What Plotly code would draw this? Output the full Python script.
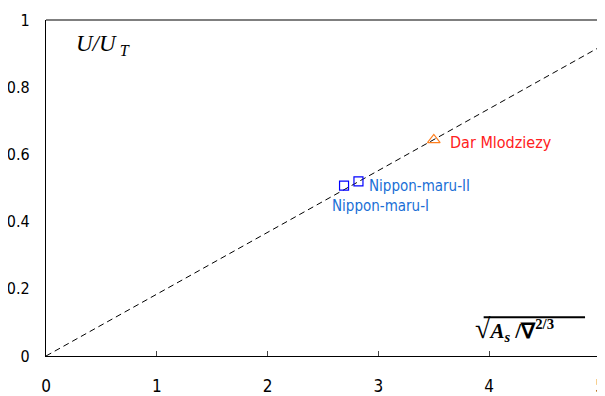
import plotly.graph_objects as go

# Data
line_x = [0, 5]
line_y = [0, 0.92]
ship_names = ["Nippon-maru-I", "Nippon-maru-II", "Dar Mlodziezy"]
ship_x = [2.69, 2.82, 3.50]
ship_y = [0.507, 0.520, 0.643]
x_ticks = [0, 1, 2, 3, 4, 5]
y_ticks = [0, 0.2, 0.4, 0.6, 0.8, 1]
y_tick_text = ["0", "0.2", "0.4", "0.6", "0.8", "1"]

FONT = "DejaVu Sans Condensed, Liberation Sans Narrow, Arial Narrow, Liberation Sans, sans-serif"
SERIF = "Liberation Serif, Times New Roman, serif"
BLUE_TXT = "#1a6fd6"

fig = go.Figure()
fig.add_trace(go.Scatter(x=line_x, y=line_y, mode="lines",
                         line=dict(color="black", width=1, dash="6px,4px"),
                         showlegend=False, hoverinfo="skip", cliponaxis=False))
fig.add_trace(go.Scatter(x=ship_x[:2], y=ship_y[:2], mode="markers",
                         marker=dict(symbol="square-open", size=9, color="#0000ff",
                                     line=dict(width=1.2)),
                         showlegend=False))
fig.add_trace(go.Scatter(x=ship_x[2:], y=ship_y[2:], mode="markers",
                         marker=dict(symbol="triangle-up-open", size=11, color="#ff7f1e",
                                     line=dict(width=1.2)),
                         showlegend=False))

# ship labels
fig.add_annotation(x=ship_x[2], y=ship_y[2], text=ship_names[2], showarrow=False,
                   xanchor="left", yanchor="middle", xshift=14, yshift=-3,
                   font=dict(family=FONT, size=16, color="#ff2020"))
fig.add_annotation(x=ship_x[1], y=ship_y[1], text=ship_names[1], showarrow=False,
                   xanchor="left", yanchor="middle", xshift=9, yshift=-5,
                   font=dict(family=FONT, size=15, color=BLUE_TXT))
fig.add_annotation(x=ship_x[0], y=ship_y[0], text=ship_names[0], showarrow=False,
                   xanchor="left", yanchor="middle", xshift=-14, yshift=-20,
                   font=dict(family=FONT, size=15, color=BLUE_TXT))

# axis titles inside plot
fig.add_annotation(xref="paper", yref="paper", x=0.05, y=0.925, showarrow=False,
                   xanchor="left", yanchor="middle",
                   text="<i>U/U</i><sub><i> T</i></sub>",
                   font=dict(family=SERIF, size=23, color="black"))
fig.add_annotation(xref="paper", yref="paper", x=0.77, y=0.08, showarrow=False,
                   xanchor="left", yanchor="middle",
                   text="<b><span style='font-size:28px'>√</span><i>A</i><sub><i>s</i></sub> /∇<sup>2/3</sup></b>",
                   font=dict(family=SERIF, size=21, color="black"))
fig.add_shape(type="line", xref="paper", yref="paper", x0=0.79, x1=0.973, y0=0.115, y1=0.115,
              line=dict(color="black", width=2))

# right border in gray
fig.add_shape(type="line", xref="paper", yref="paper", x0=1, x1=1, y0=0, y1=1,
              line=dict(color="#999999", width=1.5))
# top border
fig.add_shape(type="line", xref="paper", yref="paper", x0=0, x1=1, y0=1, y1=1,
              line=dict(color="black", width=1.2))

fig.update_xaxes(range=[0, 5], tickvals=x_ticks, ticks="inside", ticklen=5,
                 showline=True, linecolor="black", linewidth=1.2, mirror=False,
                 showgrid=False, zeroline=False, automargin=False,
                 ticklabelstandoff=14, ticklabeloverflow="allow",
                 tickfont=dict(family=FONT, size=17, color="black"))
fig.update_yaxes(range=[0, 1], tickvals=y_ticks, ticktext=y_tick_text, ticks="",
                 showline=True, linecolor="black", linewidth=1.2, mirror=False,
                 showgrid=False, zeroline=False, automargin=False,
                 ticklabelstandoff=12, ticklabeloverflow="allow",
                 tickfont=dict(family=FONT, size=16, color="black"))

# page body has an 8px margin, so the figure is sized to fit the window
fig.update_layout(width=597, height=388, plot_bgcolor="white", paper_bgcolor="white",
                  margin=dict(l=38, r=5, t=12, b=40))

fig.write_html("out.html")
